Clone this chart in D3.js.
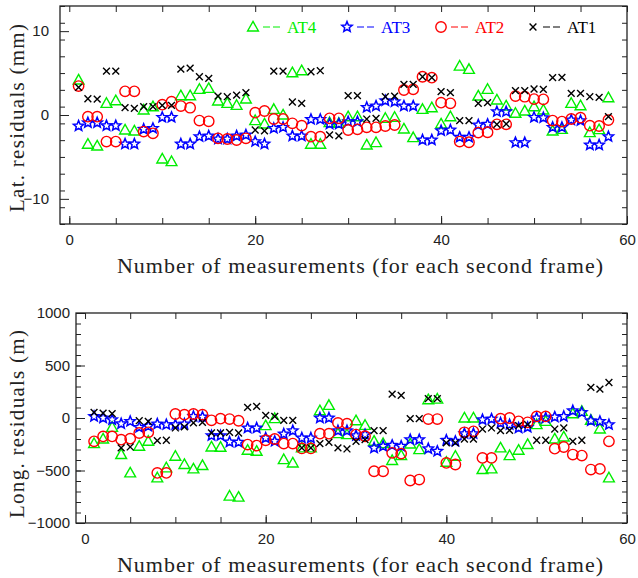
<!DOCTYPE html>
<html>
<head>
<meta charset="utf-8">
<script src="https://cdn.jsdelivr.net/npm/d3@7"></script>
<style>
  body { margin: 0; background: #fff; }
  svg { display: block; }
  .tick text { font-family: "Liberation Sans", Arial, sans-serif; font-size: 15px; fill: #222; }
  .tick line { stroke: #222; }
  .title { font-family: "Liberation Serif", "Times New Roman", serif; font-size: 22px; fill: #222; }
  .ytitle { font-family: "Liberation Serif", "Times New Roman", serif; font-size: 21px; fill: #222; }
</style>
</head>
<body>
<div id="chart"></div>
<script>
var width = 638;
var height = 578;

var measurements = [1, 2, 3, 4, 5, 6, 7, 8, 9, 10, 11, 12, 13, 14, 15, 16, 17, 18, 19, 20,
  21, 22, 23, 24, 25, 26, 27, 28, 29, 30, 31, 32, 33, 34, 35, 36, 37, 38, 39, 40,
  41, 42, 43, 44, 45, 46, 47, 48, 49, 50, 51, 52, 53, 54, 55, 56, 57, 58];

var seriesNames = ["AT4", "AT3", "AT2", "AT1"];

// lateral residuals (mm)
var latAT4 = [4.17, -3.49, -3.7, 1.39, 1.7, -1.79, -1.9, 0.6, 0.99, -5.24, -5.56, 2.3, 2.3, 3.06, 3.17, 1.67, 1.39, 1.15, 1.9, -0.67,
  -1.07, 0.67, 0.0, 5.04, 5.28, -3.49, -3.49, -0.91, -1.0, -0.2, -0.2, -3.57, -3.29, -0.4, -0.28, -1.67, -2.7, 0.67, 0.87, -1.07,
  -0.2, 5.83, 5.44, 2.26, 3.06, 1.79, 1.07, 0.2, 0.48, 0.99, 0.6, -1.9, -1.71, 1.39, 1.11, -2.1, -1.75, 2.06];
var latAT3 = [-1.31, -0.92, -0.92, -1.27, -1.27, -3.45, -3.45, -1.7, -1.59, -0.28, -0.28, -3.45, -3.45, -2.58, -2.5, -2.86, -2.86, -2.5, -2.38, -3.17,
  -3.45, -1.59, -1.47, -2.5, -2.5, -0.52, -0.52, -1.07, -1.07, -0.79, -0.79, 0.91, 1.07, 1.7, 1.59, 1.07, 1.07, -2.98, -2.98, -1.87,
  -1.79, -2.66, -2.66, -1.19, -1.11, 0.4, 0.4, -3.29, -3.29, -0.28, -0.32, -1.47, -1.47, -0.6, -0.67, -3.57, -3.57, -2.58];
var latAT2 = [3.45, -0.2, -0.2, -3.17, -3.17, 2.82, 2.82, -1.98, -2.18, 1.23, 1.59, 1.07, 0.87, -0.67, -0.75, -2.78, -2.86, -2.98, -2.78, 0.28,
  0.48, -0.48, -0.48, -0.99, -1.27, -2.58, -2.58, -0.4, -0.4, -1.79, -1.71, -1.47, -1.47, -1.31, -1.19, 2.98, 3.06, 4.56, 4.45, 1.47,
  1.39, -3.17, -3.25, -2.1, -2.06, -1.11, -1.11, 2.26, 2.18, 1.9, 1.87, -0.67, -0.79, -0.48, -0.32, -1.27, -1.31, -0.6];
var latAT1 = [3.3, 1.94, 1.9, 5.24, 5.24, 0.87, 0.79, 0.99, 0.99, 1.15, 1.15, 5.48, 5.6, 4.56, 4.37, 2.26, 2.18, 2.38, 2.66, -1.79,
  -1.9, 5.24, 5.24, 1.55, 1.39, 5.16, 5.28, -2.38, -2.5, 2.3, 2.3, -0.48, -0.4, 2.18, 2.26, 3.65, 3.65, 4.56, 4.45, 2.78,
  2.66, -0.67, -0.67, 1.39, 1.47, -1.11, -1.07, 2.9, 2.9, 3.1, 3.06, 4.45, 4.48, 2.58, 2.58, 2.18, 2.1, -0.2];

// longitudinal residuals (m)
var longAT4 = [-244, -200, -89, -348, -523, -269, -222, -570, -475, -364, -443, -485, -453, -276, -279, -744, -754, -307, -317, -73,
  -6, -396, -428, -285, -285, 69, 120, -149, -158, -26, -70, -222, -244, -405, -358, -247, -301, 174, 180, -421,
  -364, 0, 0, -491, -485, -285, -358, -307, -253, -63, -32, -200, -181, 41, 63, -22, -105, -570];
var longAT3 = [15, 0, -16, -54, -32, -89, -79, -57, -63, -63, -57, 15, 9, -168, -168, -228, -231, -95, -95, -190,
  -222, -152, -121, -190, -190, 0, 0, -121, -121, -168, -158, -285, -269, -260, -269, -206, -206, -292, -317, -212,
  -222, -149, -149, -16, -10, -47, -63, -95, -89, 0, 0, 9, 15, 69, 53, -26, -32, -63];
var longAT2 = [-222, -175, -175, -206, -197, -143, -136, -523, -523, 38, 32, 38, 32, -22, -6, -10, -26, -253, -263, -212,
  -200, -244, -244, -290, -290, -149, -149, -47, -54, -158, -174, -507, -507, -332, -339, -595, -586, -10, -10, -428,
  -443, -136, -127, -380, -380, -6, 0, -32, -41, 15, 15, -292, -276, -348, -358, -491, -485, -222];
var longAT1 = [53, 47, 41, -285, -276, -26, -32, -215, -212, -95, -85, -47, -41, -143, -143, -137, -143, 101, 111, 25,
  15, -22, -22, -285, -285, -244, -231, -285, -295, -222, -206, -121, -121, 228, 215, -6, -6, 185, 185, -237,
  -237, -200, -200, -105, -95, -121, -117, -73, -63, -212, -212, -105, -95, -222, -212, 291, 275, 338];

var xTicks = [0, 20, 40, 60];
var latTicks = [-10, 0, 10];
var longTicks = [-1000, -500, 0, 500, 1000];

var colors = { AT4: "#00ee00", AT3: "#0000ff", AT2: "#ff0000", AT1: "#000000" };
var shapes = { AT4: "triangle", AT3: "star", AT2: "circle", AT1: "cross" };

var svg = d3.select("#chart").append("svg")
  .attr("width", width)
  .attr("height", height);

function markerPath(shape) {
  if (shape === "triangle") return "M0,-5.6L5.4,4L-5.4,4Z";
  if (shape === "circle") return "M5.2,0A5.2,5.2 0 1,1 -5.2,0A5.2,5.2 0 1,1 5.2,0Z";
  if (shape === "cross") return "M-3.4,-3.4L3.4,3.4M-3.4,3.4L3.4,-3.4";
  // star
  var pts = [];
  for (var i = 0; i < 10; i++) {
    var r = i % 2 === 0 ? 5.4 : 2.4;
    var a = -Math.PI / 2 + i * Math.PI / 5;
    pts.push([r * Math.cos(a), r * Math.sin(a)]);
  }
  return "M" + pts.map(p => p[0].toFixed(2) + "," + p[1].toFixed(2)).join("L") + "Z";
}

function strokeFor(name) {
  return shapes[name] === "star" ? 1.5 : 1.4;
}

function drawPanel(opts) {
  var x = d3.scaleLinear().domain([-1, 60]).range([opts.left, opts.right]);
  var y = d3.scaleLinear().domain(opts.yDomain).range([opts.bottom, opts.top]);
  var g = svg.append("g");

  // minor ticks
  var minorX = d3.range(0, 61, 5);
  var minorY = d3.range(opts.yDomain[0], opts.yDomain[1] + 0.001, opts.yMinor);

  g.append("g").attr("transform", "translate(0," + opts.bottom + ")")
    .call(d3.axisBottom(x).tickValues(minorX).tickSize(-6).tickFormat(""))
    .call(s => s.select(".domain").remove());
  g.append("g").attr("transform", "translate(0," + opts.top + ")")
    .call(d3.axisTop(x).tickValues(minorX).tickSize(-6).tickFormat(""))
    .call(s => s.select(".domain").remove());
  g.append("g").attr("transform", "translate(" + opts.left + ",0)")
    .call(d3.axisLeft(y).tickValues(minorY).tickSize(-5).tickFormat(""))
    .call(s => s.select(".domain").remove());
  g.append("g").attr("transform", "translate(" + opts.right + ",0)")
    .call(d3.axisRight(y).tickValues(minorY).tickSize(-5).tickFormat(""))
    .call(s => s.select(".domain").remove());

  // labelled ticks
  g.append("g").attr("transform", "translate(0," + opts.bottom + ")")
    .call(d3.axisBottom(x).tickValues(xTicks).tickSize(-8).tickPadding(10))
    .call(s => s.select(".domain").remove());
  g.append("g").attr("transform", "translate(" + opts.left + ",0)")
    .call(d3.axisLeft(y).tickValues(opts.yTicks).tickSize(-9).tickPadding(opts.yPad)
      .tickFormat(d3.format("d")))
    .call(s => s.select(".domain").remove());
  g.selectAll(".tick line").attr("stroke-width", 1);

  g.append("rect")
    .attr("x", opts.left).attr("y", opts.top)
    .attr("width", opts.right - opts.left).attr("height", opts.bottom - opts.top)
    .attr("fill", "none").attr("stroke", "#222").attr("stroke-width", 1.3);

  opts.series.forEach(function (s) {
    g.append("g").selectAll("path")
      .data(s.values)
      .enter()
      .append("path")
      .attr("d", markerPath(shapes[s.name]))
      .attr("transform", (d, i) => "translate(" + x(measurements[i]) + "," + y(d) + ")")
      .attr("fill", "none")
      .attr("stroke", colors[s.name])
      .attr("stroke-width", strokeFor(s.name));
  });

  g.append("text").attr("class", "title")
    .attr("x", 117)
    .attr("y", opts.bottom + 49)
    .attr("textLength", 486)
    .attr("lengthAdjust", "spacing")
    .text("Number of measurements (for each second frame)");

  g.append("text").attr("class", "ytitle")
    .attr("transform", "translate(" + 24 + "," + opts.yTitleCenter + ") rotate(-90)")
    .attr("text-anchor", "middle")
    .attr("textLength", 188)
    .attr("lengthAdjust", "spacing")
    .text(opts.yTitle);

  return { x: x, y: y };
}

drawPanel({
  left: 60, right: 627, top: 6, bottom: 224,
  yDomain: [-13, 13], yMinor: 2, yTicks: latTicks, yPad: 11,
  yTitle: "Lat. residuals (mm)", yTitleCenter: 118,
  series: [
    { name: "AT4", values: latAT4 },
    { name: "AT3", values: latAT3 },
    { name: "AT2", values: latAT2 },
    { name: "AT1", values: latAT1 }
  ]
});

drawPanel({
  left: 76, right: 627, top: 313, bottom: 523,
  yDomain: [-1000, 1000], yMinor: 100, yTicks: longTicks, yPad: 6,
  yTitle: "Long. residuals (m)", yTitleCenter: 424,
  series: [
    { name: "AT4", values: longAT4 },
    { name: "AT3", values: longAT3 },
    { name: "AT2", values: longAT2 },
    { name: "AT1", values: longAT1 }
  ]
});

// legend
var legendX = [253, 347, 441, 533];
var legend = svg.append("g").attr("id", "legend");
seriesNames.forEach(function (name, i) {
  var lg = legend.append("g").attr("transform", "translate(" + legendX[i] + ",27)");
  lg.append("path")
    .attr("d", markerPath(shapes[name]))
    .attr("fill", "none")
    .attr("stroke", colors[name])
    .attr("stroke-width", strokeFor(name));
  lg.append("line")
    .attr("x1", 10).attr("x2", 27).attr("y1", 0).attr("y2", 0)
    .attr("stroke", colors[name]).attr("stroke-width", 1)
    .attr("stroke-dasharray", "7,3");
  lg.append("text")
    .attr("x", 34).attr("y", 5.5)
    .attr("fill", colors[name])
    .style("font-family", "'Liberation Serif', serif")
    .style("font-size", "17px")
    .text(name);
});
</script>
</body>
</html>
